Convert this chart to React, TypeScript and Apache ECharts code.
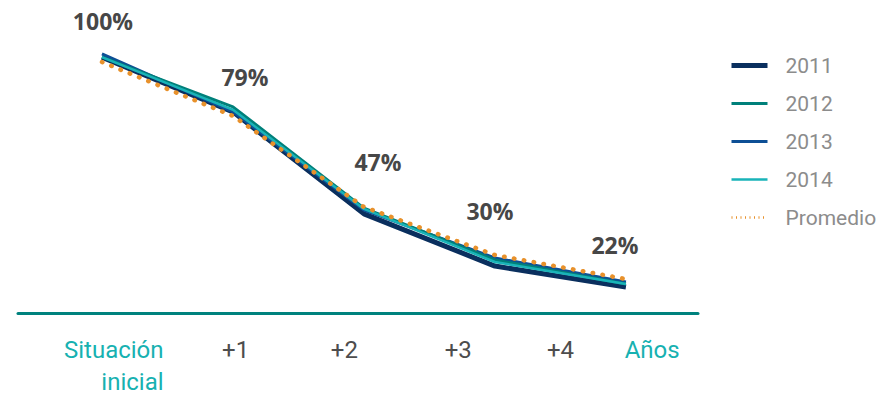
import React, { useEffect, useRef } from "react";
import * as echarts from "echarts";

// Categories (x axis) and the end label
const categories = ["Situación\ninicial", "+1", "+2", "+3", "+4"];
const axisEndLabel = "Años";
const legendNames = ["2011", "2012", "2013", "2014", "Promedio"];
const pctLabels = ["100%", "79%", "47%", "30%", "22%"];

// Series values (in % of initial situation)
const s2011 = [100.3, 81.4, 46.2, 28.2, 21.0];
const s2012 = [100.3, 83.1, 48.2, 30.3, 22.0];
const s2013 = [101.4, 81.4, 47.5, 31.0, 22.7];
const s2014 = [100.3, 82.1, 47.9, 29.6, 22.0];
const promedio = [98.6, 80.0, 48.6, 32.0, 23.7];

// Layout helpers (positions, not data)
const labelPos = [0.09, 1.02, 1.85, 2.72, 3.5, 4.2];
const pctOffsets: [number, number][] = [
  [1, -41],
  [12, -39],
  [14, -45],
  [-5, -44],
  [-11, -34],
];

const FONT = "Roboto, 'Noto Sans', sans-serif";

export default function App() {
  const ref = useRef<HTMLDivElement>(null);
  useEffect(() => {
    document.body.style.margin = "0";
    if (!ref.current) return;
    const chart = echarts.init(ref.current, undefined, { renderer: "svg" });
    const toPairs = (arr: number[]) => arr.map((v, i) => [i, v]);
    const allLabels = [...categories, axisEndLabel];

    const mkLine = (name: string, data: number[], color: string, width: number, z: number) => ({
      name,
      type: "line",
      data: toPairs(data),
      symbol: "none",
      z,
      lineStyle: { color, width, join: "round" },
      itemStyle: { color },
    });

    chart.setOption({
      animation: false,
      backgroundColor: "#ffffff",
      grid: { left: 18, right: 189, top: 29, bottom: 86, containLabel: false },
      legend: {
        orient: "vertical",
        left: 729,
        top: 55,
        padding: 0,
        itemWidth: 36,
        itemHeight: 14,
        itemGap: 17,
        data: legendNames.map((n) =>
          n === "Promedio"
            ? { name: n, lineStyle: { width: 2.5, type: [1, 3.5], cap: "butt" } }
            : { name: n }
        ),
        itemStyle: { opacity: 0, borderWidth: 0 },
        lineStyle: { width: "inherit" },
        textStyle: { fontSize: 21, color: "#8c8c8c", fontFamily: FONT, padding: [0, 0, 0, 13] },
      },
      xAxis: {
        type: "value",
        min: -0.641,
        max: 4.55,
        splitLine: { show: false },
        axisTick: { show: false },
        axisLine: { show: true, lineStyle: { color: "#00827e", width: 3 } },
        axisLabel: {
          customValues: labelPos,
          margin: 21,
          fontFamily: FONT,
          fontSize: 24,
          lineHeight: 32,
          formatter: (v: number) => {
            let idx = 0;
            let best = Infinity;
            labelPos.forEach((p, i) => {
              const d = Math.abs(p - v);
              if (d < best) {
                best = d;
                idx = i;
              }
            });
            const txt = allLabels[idx];
            if (idx === 0) {
              return txt
                .split("\n")
                .map((l) => `{cr|${l}}`)
                .join("\n");
            }
            if (idx === allLabels.length - 1) return `{c|${txt}}`;
            return `{g|${txt}}`;
          },
          rich: {
            cr: { color: "#17b1b1", fontSize: 24, lineHeight: 32, fontFamily: FONT, align: "right" },
            c: { color: "#17b1b1", fontSize: 24, lineHeight: 32, fontFamily: FONT },
            g: { color: "#4d4d4d", fontSize: 24, lineHeight: 32, fontFamily: FONT },
          },
        },
      },
      yAxis: {
        type: "value",
        min: 12,
        max: 110,
        show: false,
        splitLine: { show: false },
      },
      series: [
        mkLine("2011", s2011, "#0a2f5e", 5, 2),
        mkLine("2012", s2012, "#00807a", 3, 4),
        mkLine("2013", s2013, "#0d4f95", 3, 3),
        mkLine("2014", s2014, "#19b3b8", 2.5, 5),
        {
          name: "Promedio",
          type: "line",
          z: 6,
          data: promedio.map((v, i) => ({
            value: [i, v],
            label: {
              show: true,
              position: "inside",
              offset: pctOffsets[i],
              formatter: pctLabels[i],
            },
          })),
          symbol: "circle",
          symbolSize: 1,
          showSymbol: true,
          itemStyle: { color: "transparent" },
          lineStyle: { color: "#e8912b", width: 4.5, type: [0.5, 9.5], cap: "round" },
          label: {
            show: true,
            color: "#474747",
            fontFamily: "'Open Sans', sans-serif",
            fontWeight: "bold",
            fontSize: 23,
          },
        },
      ],
    });
    return () => chart.dispose();
  }, []);
  return <div ref={ref} style={{ width: 887, height: 399 }} />;
}
